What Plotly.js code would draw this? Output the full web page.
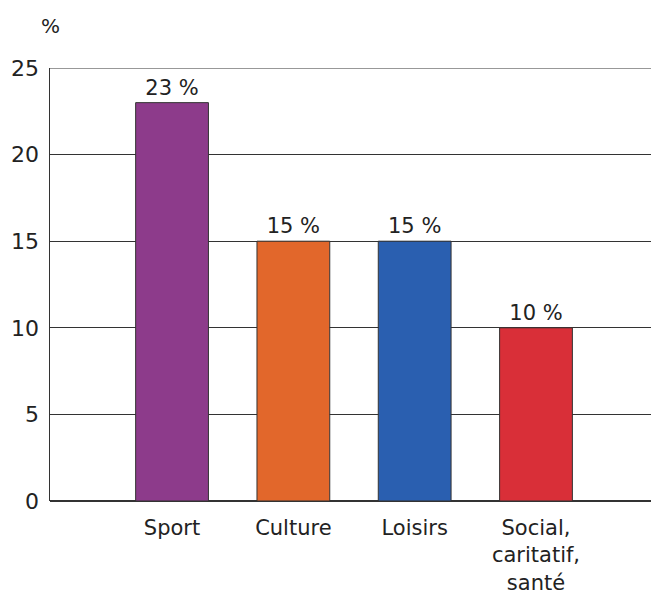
<!DOCTYPE html>
<html><head><meta charset="utf-8">
<script src="https://cdn.plot.ly/plotly-3.0.1.min.js"></script>
<style>body{margin:0;background:#fff}#c{width:651px;height:604px}</style>
</head><body><div id="c"></div>
<script>
const categories = ["Sport", "Culture", "Loisirs", "Social,<br>caritatif,<br>santé"];
const values = [23, 15, 15, 10];
const valueLabels = ["23 %", "15 %", "15 %", "10 %"];
const barColors = ["#8d3b8b", "#e2672b", "#2a5fb0", "#d92f38"];
const yTicks = [0, 5, 10, 15, 20, 25];

const font = "'DejaVu Sans', sans-serif";
const data = [{
  type: "bar",
  x: [0, 1, 2, 3],
  y: values,
  width: 0.6,
  text: valueLabels,
  textposition: "outside",
  cliponaxis: false,
  textfont: {family: font, size: 21, color: "#222"},
  marker: {color: barColors, line: {color: "#333", width: 1}},
  hoverinfo: "none"
}];
const layout = {
  width: 651, height: 604,
  margin: {l: 50, r: 0, t: 68, b: 103},
  paper_bgcolor: "#fff", plot_bgcolor: "#fff",
  showlegend: false,
  font: {family: font, size: 21, color: "#222"},
  xaxis: {
    range: [-1.006, 3.948],
    tickvals: [0, 1, 2, 3],
    ticktext: categories,
    showgrid: false, zeroline: false, showline: false,
    ticks: "", ticklen: 0, ticklabelstandoff: 12,
    tickfont: {family: font, size: 21, color: "#222"},
    fixedrange: true
  },
  yaxis: {
    range: [0, 25],
    tickvals: yTicks,
    ticktext: yTicks.map(String),
    showgrid: true, gridcolor: "#333", gridwidth: 1,
    zeroline: true, zerolinecolor: "#333", zerolinewidth: 1.5,
    showline: true, linecolor: "#333", linewidth: 1.5,
    ticks: "", ticklabelstandoff: 5,
    tickfont: {family: font, size: 22, color: "#222"},
    fixedrange: true
  },
  shapes: [{
    type: "line", xref: "paper", yref: "y", x0: 0, x1: 1, y0: 25, y1: 25,
    line: {color: "#333", width: 1.2}, layer: "below"
  }],
  annotations: [{
    text: "%", xref: "paper", yref: "paper", x: 0, y: 1.0, yshift: 28,
    xanchor: "center", yanchor: "bottom", showarrow: false,
    font: {family: font, size: 20, color: "#222"}
  }]
};
Plotly.newPlot("c", data, layout, {displayModeBar: false, staticPlot: true});
</script>
</body></html>
